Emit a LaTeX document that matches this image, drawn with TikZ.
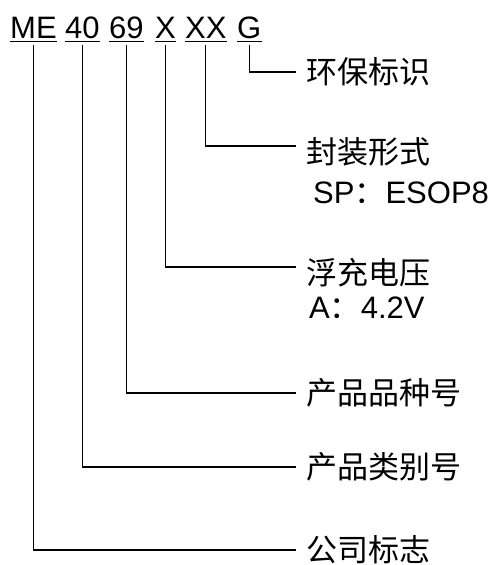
\documentclass[tikz,border=0pt]{standalone}
\usepackage{fontspec}
\setmainfont{Liberation Sans}
\newfontfamily\cjk{Noto Sans CJK SC}
\usetikzlibrary{positioning}

\tikzset{
  code/.style={anchor=base west, inner sep=0pt, text depth=3pt, font=\fontsize{31}{36}\selectfont},
  lbl/.style={anchor=west, inner xsep=10pt, inner ysep=0pt, font=\cjk\fontsize{31}{36}\selectfont},
  sub/.style={anchor=west, inner sep=0pt, font=\fontsize{31}{36}\selectfont},
  wire/.style={line width=1.2pt},
}

\begin{document}
\begin{tikzpicture}[x=1pt, y=-1pt]
    \useasboundingbox (0,0) rectangle (497,565);
    % part number
    \node[code] (me) at (10,38) {ME};
    \node[code] (d40) at (65,38) {40};
    \node[code] (d69) at (109,38) {69};
    \node[code] (x) at (155,38) {X};
    \node[code] (xx) at (185,38) {XX};
    \node[code] (g) at (237,38) {G};
    \foreach \n in {me,d40,d69,x,xx,g}
        \draw[line width=1pt] (\n.south west) -- (\n.south east);
    % labels
    \node[lbl] (env) at (296,72) {环保标识};
    \node[lbl] (pkg) at (296,152) {封装形式};
    \node[sub] (sp) at (313,193) {SP{\cjk ：}ESOP8};
    \node[lbl] (volt) at (296,273) {浮充电压};
    \node[sub] (av) at (309,308) {A{\cjk ：}4.2V};
    \node[lbl] (kind) at (296,393) {产品品种号};
    \node[lbl] (cat) at (296,467) {产品类别号};
    \node[lbl] (co) at (296,550) {公司标志};
    % connectors
    \draw[wire] ([yshift=-4pt]g.south) |- (env.west);
    \draw[wire] ([yshift=-4pt]xx.south) |- ([yshift=6pt]pkg.west);
    \draw[wire] ([yshift=-4pt]x.south) |- ([yshift=6pt]volt.west);
    \draw[wire] ([yshift=-4pt]d69.south) |- (kind.west);
    \draw[wire] ([yshift=-4pt]d40.south) |- (cat.west);
    \draw[wire] ([yshift=-4pt]me.south) |- (co.west);
\end{tikzpicture}
\end{document}
